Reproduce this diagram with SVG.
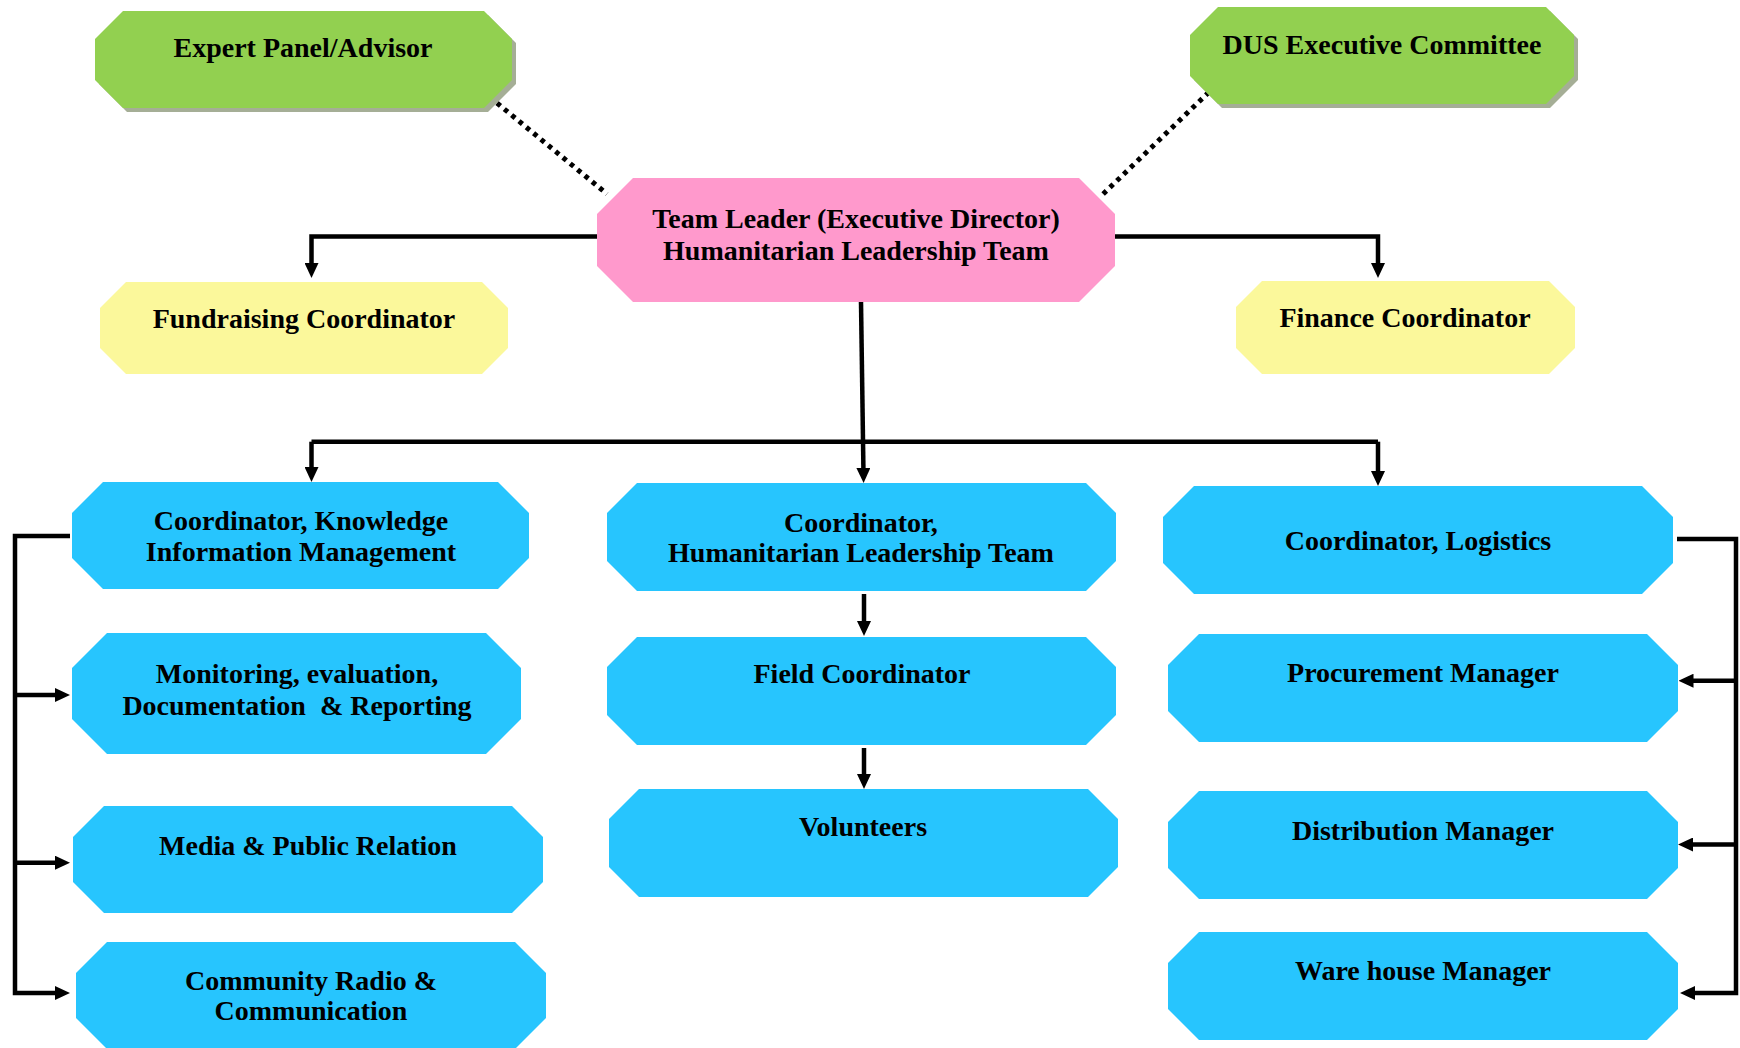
<svg xmlns="http://www.w3.org/2000/svg" width="1740" height="1048" viewBox="0 0 1740 1048">
<style>
text{font-family:"Liberation Serif","Times New Roman",serif;font-weight:bold;font-size:28px;fill:#000;text-anchor:middle}
.green{fill:#92D050}
.shadow{fill:#A5AE96}
.pink{fill:#FF99CC}
.yellow{fill:#FBF89B}
.blue{fill:#27C5FE}
.ln{fill:none;stroke:#000;stroke-width:4.5}
.arr{fill:none;stroke:#000;stroke-width:4.5;marker-end:url(#ah)}
.dot{fill:none;stroke:#000;stroke-width:5;stroke-dasharray:4.5 5}
</style>
<defs>
<marker id="ah" viewBox="0 0 15 14" refX="7" refY="7" markerWidth="15" markerHeight="14" markerUnits="userSpaceOnUse" orient="auto"><path d="M0,0 L15,7 L0,14 z" fill="#000"/></marker>
</defs>
<rect width="1740" height="1048" fill="#fff"/>
<g id="connectors">
<path class="dot" d="M497,103 L607,194"/>
<path class="dot" d="M1209,92 L1100,197"/>
<path class="arr" d="M597,236.5 H311.5 V270"/>
<path class="arr" d="M1115,236.5 H1378 V270"/>
<path class="arr" d="M861,302 L863.5,475"/>
<path class="ln" d="M311.5,441.7 H1378"/>
<path class="arr" d="M311.5,441.7 V474"/>
<path class="arr" d="M1378,441.7 V478"/>
<path class="arr" d="M864,594 V628"/>
<path class="arr" d="M864,748 V781"/>
<path class="arr" d="M70,536 H15 V993 H62"/>
<path class="arr" d="M15,695 H62"/>
<path class="arr" d="M15,862.7 H62"/>
<path class="arr" d="M1677,539 H1736 V993 H1688"/>
<path class="arr" d="M1736,680.7 H1686.5"/>
<path class="arr" d="M1736,844.5 H1686"/>
</g>
<g id="expert-panel">
<polygon class="shadow" points="127,15 488,15 516,43 516,84 488,112 127,112 99,84 99,43"/>
<polygon class="green" points="123,11 484,11 512,39 512,80 484,108 123,108 95,80 95,39"/>
<text x="303" y="57">Expert Panel/Advisor</text>
</g>
<g id="dus-executive-committee">
<polygon class="shadow" points="1222,11 1550,11 1578,39 1578,80 1550,108 1222,108 1194,80 1194,39"/>
<polygon class="green" points="1218,7 1546,7 1574,35 1574,76 1546,104 1218,104 1190,76 1190,35"/>
<text x="1382" y="54">DUS Executive Committee</text>
</g>
<g id="team-leader">
<polygon class="pink" points="633,178 1079,178 1115,214 1115,266 1079,302 633,302 597,266 597,214"/>
<text x="856" y="228">Team Leader (Executive Director)</text>
<text x="856" y="260">Humanitarian Leadership Team</text>
</g>
<g id="fundraising-coordinator">
<polygon class="yellow" points="126,282 482,282 508,308 508,348 482,374 126,374 100,348 100,308"/>
<text x="304" y="328">Fundraising Coordinator</text>
</g>
<g id="finance-coordinator">
<polygon class="yellow" points="1262,281 1549,281 1575,307 1575,348 1549,374 1262,374 1236,348 1236,307"/>
<text x="1405" y="327">Finance Coordinator</text>
</g>
<g id="coordinator-kim">
<polygon class="blue" points="103,482 498,482 529,513 529,558 498,589 103,589 72,558 72,513"/>
<text x="301" y="530">Coordinator, Knowledge</text>
<text x="301" y="561">Information Management</text>
</g>
<g id="monitoring">
<polygon class="blue" points="107,633 486,633 521,668 521,719 486,754 107,754 72,719 72,668"/>
<text x="297" y="683">Monitoring, evaluation,</text>
<text x="297" y="715" xml:space="preserve">Documentation  &amp; Reporting</text>
</g>
<g id="media-pr">
<polygon class="blue" points="104,806 512,806 543,837 543,882 512,913 104,913 73,882 73,837"/>
<text x="308" y="855">Media &amp; Public Relation</text>
</g>
<g id="community-radio">
<polygon class="blue" points="107,942 515,942 546,973 546,1018 515,1049 107,1049 76,1018 76,973"/>
<text x="311" y="990">Community Radio &amp;</text>
<text x="311" y="1020">Communication</text>
</g>
<g id="coordinator-hlt">
<polygon class="blue" points="637,483 1086,483 1116,513 1116,561 1086,591 637,591 607,561 607,513"/>
<text x="861" y="532">Coordinator,</text>
<text x="861" y="562">Humanitarian Leadership Team</text>
</g>
<g id="field-coordinator">
<polygon class="blue" points="637,637 1086,637 1116,667 1116,715 1086,745 637,745 607,715 607,667"/>
<text x="862" y="683">Field Coordinator</text>
</g>
<g id="volunteers">
<polygon class="blue" points="639,789 1088,789 1118,819 1118,867 1088,897 639,897 609,867 609,819"/>
<text x="863" y="836">Volunteers</text>
</g>
<g id="coordinator-logistics">
<polygon class="blue" points="1194,486 1642,486 1673,517 1673,563 1642,594 1194,594 1163,563 1163,517"/>
<text x="1418" y="550">Coordinator, Logistics</text>
</g>
<g id="procurement-manager">
<polygon class="blue" points="1199,634 1647,634 1678,665 1678,711 1647,742 1199,742 1168,711 1168,665"/>
<text x="1423" y="682">Procurement Manager</text>
</g>
<g id="distribution-manager">
<polygon class="blue" points="1199,791 1647,791 1678,822 1678,868 1647,899 1199,899 1168,868 1168,822"/>
<text x="1423" y="840">Distribution Manager</text>
</g>
<g id="warehouse-manager">
<polygon class="blue" points="1199,932 1647,932 1678,963 1678,1009 1647,1040 1199,1040 1168,1009 1168,963"/>
<text x="1423" y="980">Ware house Manager</text>
</g>
</svg>
